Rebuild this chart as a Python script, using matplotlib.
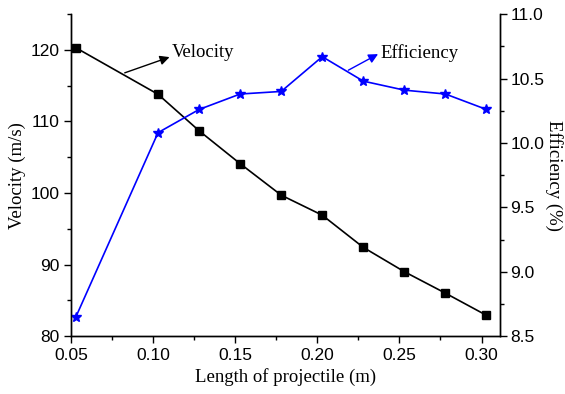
import matplotlib.pyplot as plt
import numpy as np
from matplotlib.ticker import MultipleLocator

# data
length = [0.053, 0.103, 0.128, 0.153, 0.178, 0.203, 0.228, 0.253, 0.278, 0.303]
velocity = [120.3, 113.8, 108.7, 104.1, 99.7, 96.9, 92.4, 89.0, 86.0, 82.9]
efficiency = [8.65, 10.08, 10.26, 10.38, 10.40, 10.67, 10.48, 10.41, 10.38, 10.26]

serif = 'Liberation Serif'
sans = 'Liberation Sans'

fig = plt.figure(figsize=(5.65, 3.94), dpi=100)
ax = fig.add_axes([0.1257, 0.147, 0.760, 0.817])
ax2 = ax.twinx()

ax.plot(length, velocity, color='black', marker='s', markersize=6, linewidth=1.2)
ax2.plot(length, efficiency, color='blue', marker='*', markersize=7, linewidth=1.2)

ax.set_xlim(0.05, 0.3115)
ax.set_ylim(80, 125)
ax2.set_ylim(8.5, 11.0)

ax.xaxis.set_major_locator(MultipleLocator(0.05))
ax.xaxis.set_minor_locator(MultipleLocator(0.025))
ax.yaxis.set_major_locator(MultipleLocator(10))
ax.yaxis.set_minor_locator(MultipleLocator(5))
ax2.yaxis.set_major_locator(MultipleLocator(0.5))
ax2.yaxis.set_minor_locator(MultipleLocator(0.25))

ax.xaxis.set_major_formatter(plt.FuncFormatter(lambda v, p: f'{v:.2f}'))
ax2.yaxis.set_major_formatter(plt.FuncFormatter(lambda v, p: f'{v:.1f}'))

for a in (ax, ax2):
    a.spines['top'].set_visible(False)
    for s in a.spines.values():
        s.set_linewidth(1.0)
    a.tick_params(which='major', direction='out', length=5, width=1.0, labelsize=12.5)
    a.tick_params(which='minor', direction='out', length=3, width=1.0)
    for lab in a.get_xticklabels() + a.get_yticklabels():
        lab.set_fontfamily(sans)
ax2.tick_params(axis='y', which='major', pad=2)

ax.set_xlabel('Length of projectile (m)', fontfamily=serif, fontsize=13.5)
ax.set_ylabel('Velocity (m/s)', fontfamily=serif, fontsize=13.5, va='center')
ax.yaxis.set_label_coords(-0.125, 0.5)
ax2.set_ylabel('Efficiency (%)', fontfamily=serif, fontsize=13.5, rotation=270, va='center')
ax2.yaxis.set_label_coords(1.125, 0.5)

arrow = dict(arrowstyle='-|>', color='black', lw=1.0, mutation_scale=14, shrinkA=0, shrinkB=0)
ax.annotate('', xy=(0.110, 119.0), xytext=(0.0827, 116.8), arrowprops=arrow)
ax.text(0.1115, 119.6, 'Velocity', fontfamily=serif, fontsize=13.5, va='center', ha='left')

arrow_b = dict(arrow, color='blue')
ax2.annotate('', xy=(0.237, 10.69), xytext=(0.2189, 10.565), arrowprops=arrow_b)
ax2.text(0.2385, 10.70, 'Efficiency', fontfamily=serif, fontsize=13.5, va='center', ha='left')

plt.savefig('out.png', dpi=100)
